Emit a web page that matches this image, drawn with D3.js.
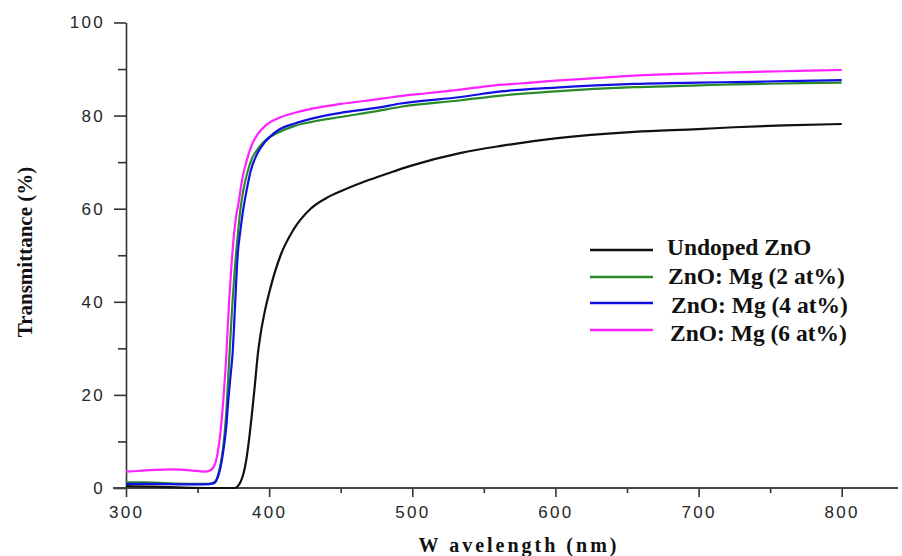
<!DOCTYPE html>
<html>
<head>
<meta charset="utf-8">
<script src="https://cdn.jsdelivr.net/npm/d3@7"></script>
<style>
  body { margin: 0; background: #fff; }
  .tick text { font-family: "Liberation Sans", Arial, sans-serif; font-size: 17px; fill: #262626; letter-spacing: 2.3px; }
  .axis-title, .legend text { font-family: "Liberation Serif", "Times New Roman", serif; font-weight: bold; fill: #111; }
</style>
</head>
<body>
<script>
// series: [wavelength (nm), transmittance (%)]
const undoped = [[300,0.4],[320,0.3],[340,0.1],[360,0],[376,0],[378,0.4],[380,1.3],[382,3],[384,6],[386,10.5],[388,16],[390,22],[392,28.5],[394,33],[397,38],[401,43.1],[408,50],[417,55.5],[429,60],[440,62.3],[452,64],[470,66.2],[487,68],[500,69.3],[534,72],[562,73.5],[600,75.1],[655,76.5],[700,77.1],[725,77.5],[760,77.9],[800,78.2]];
const mg2 = [[300,1.2],[315,1.2],[330,1.0],[345,0.9],[358,0.9],[362,1.3],[364,2.5],[366,5],[368,9],[370,16],[372,27],[374,38],[376,47],[378,54],[380,60],[382,64],[385,68],[388,70.8],[392,72.8],[397,74.6],[406,76.3],[418,77.8],[429,78.6],[450,79.7],[476,81],[492,81.9],[534,83.3],[562,84.3],[600,85.2],[655,86.1],[700,86.5],[725,86.7],[760,86.9],[800,87.1]];
const mg4 = [[300,0.9],[320,0.9],[340,0.8],[355,0.8],[361,1.0],[364,2.2],[366,4.4],[368,8],[370,13],[371.5,19],[373,24],[374.5,29],[376,38],[378,50],[380,55.5],[381.5,59],[384,63.5],[387,68],[392,72],[397,74.3],[406,76.8],[418,78.3],[429,79.3],[450,80.6],[476,81.7],[492,82.6],[534,84],[562,85.2],[600,86],[655,86.8],[700,87.1],[725,87.2],[760,87.4],[800,87.6]];
const mg6 = [[300,3.5],[310,3.7],[320,3.9],[332,4.0],[345,3.8],[355,3.5],[359,3.8],[362,5],[364,7.5],[366,12],[368,19],[370,28],[372,40],[373.5,47],[375,53],[377,58.5],[378.5,61],[381,66],[384,70],[388,73.8],[392,76],[398,78],[406,79.4],[418,80.6],[430,81.5],[450,82.5],[475,83.5],[492,84.2],[510,84.8],[534,85.6],[555,86.4],[575,86.9],[600,87.5],[630,88.1],[655,88.6],[700,89.1],[740,89.4],[770,89.6],[800,89.8]];

const seriesNames = ["Undoped ZnO", "ZnO: Mg (2 at%)", "ZnO: Mg (4 at%)", "ZnO: Mg (6 at%)"];
const seriesData = [undoped, mg2, mg4, mg6];
const seriesColors = ["#111111", "#2a8a2a", "#1010e0", "#ff22ff"];

const xMajor = [300, 400, 500, 600, 700, 800];
const xMinor = [350, 450, 550, 650, 750];
const yMajor = [0, 20, 40, 60, 80, 100];
const yMinor = [10, 30, 50, 70, 90];

const width = 902, height = 556;

const svg = d3.select("body").append("svg")
  .attr("width", width)
  .attr("height", height);

const x = d3.scaleLinear().domain([300, 800]).range([126, 841.7]);
const y = d3.scaleLinear().domain([0, 100]).range([488, 22.5]);

// minor ticks first
svg.append("g")
  .attr("transform", `translate(0,${y(0)})`)
  .call(d3.axisBottom(x).tickValues(xMinor).tickSize(5).tickFormat(""))
  .call(g => g.select(".domain").remove());
svg.append("g")
  .attr("transform", `translate(${x(300)},0)`)
  .call(d3.axisLeft(y).tickValues(yMinor).tickSize(8).tickFormat(""))
  .call(g => g.select(".domain").remove());

const xAxis = svg.append("g")
  .attr("transform", `translate(0,${y(0)})`)
  .call(d3.axisBottom(x).tickValues(xMajor).tickSize(9).tickPadding(9).tickSizeOuter(0));
xAxis.select(".domain").remove();

const yAxis = svg.append("g")
  .attr("transform", `translate(${x(300)},0)`)
  .call(d3.axisLeft(y).tickValues(yMajor).tickSize(12).tickPadding(9).tickSizeOuter(0));
yAxis.select(".domain").attr("stroke", "#333").attr("stroke-width", 1.6);

svg.selectAll(".tick line").attr("stroke", "#333").attr("stroke-width", 1.6);

// x axis base line running across the plot
svg.append("line")
  .attr("x1", x(300) - 13).attr("x2", width - 4)
  .attr("y1", y(0)).attr("y2", y(0))
  .attr("stroke", "#444").attr("stroke-width", 1.8);

const line = d3.line()
  .x(d => x(d[0]))
  .y(d => y(d[1]))
  .curve(d3.curveMonotoneX);

svg.selectAll("path.series")
  .data(seriesData)
  .enter()
  .append("path")
  .attr("class", "series")
  .attr("d", line)
  .attr("fill", "none")
  .attr("stroke", (d, i) => seriesColors[i])
  .attr("stroke-width", 2.2);

// titles
svg.append("text")
  .attr("class", "axis-title")
  .attr("x", 519).attr("y", 552)
  .attr("text-anchor", "middle")
  .style("font-size", "20px")
  .style("letter-spacing", "3px")
  .text("W avelength (nm)");

svg.append("text")
  .attr("class", "axis-title")
  .attr("transform", "translate(32,252) rotate(-90)")
  .attr("text-anchor", "middle")
  .style("font-size", "21px")
  .text("Transmittance (%)");

// legend
const legendY = [250, 277, 303, 330];
const legendTextDx = [77, 78, 81, 80];
const legendTextDy = [5, 7, 10, 11];
const legend = svg.append("g").attr("class", "legend");
const items = legend.selectAll("g")
  .data(seriesNames)
  .enter()
  .append("g")
  .attr("transform", (d, i) => `translate(590,${legendY[i]})`);
items.append("line")
  .attr("x1", 0).attr("x2", 63)
  .attr("stroke", (d, i) => seriesColors[i])
  .attr("stroke-width", 2.5);
items.append("text")
  .attr("x", (d, i) => legendTextDx[i])
  .attr("y", (d, i) => legendTextDy[i])
  .style("font-size", "23.5px")
  .text(d => d);
</script>
</body>
</html>
